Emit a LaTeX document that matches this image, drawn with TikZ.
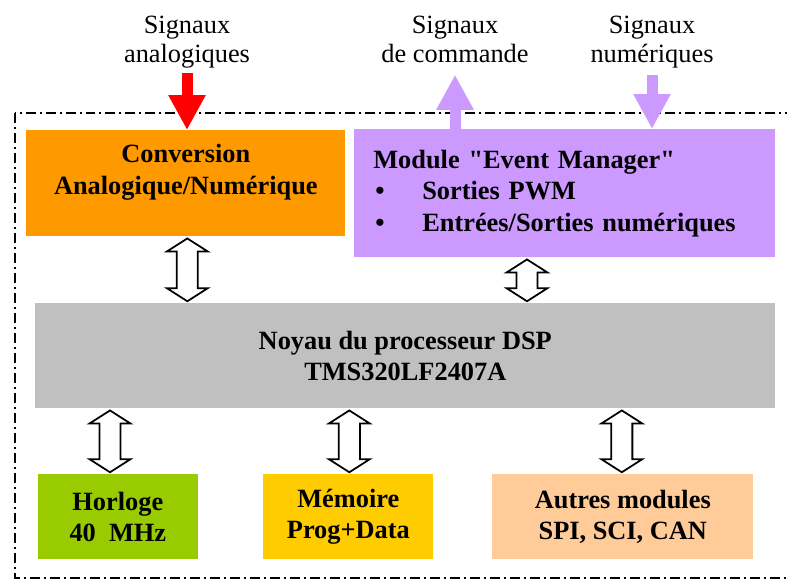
\documentclass[tikz,border=0pt]{standalone}
\usepackage{fontspec}
\setmainfont{Liberation Serif}[Ligatures=TeXOff]
\usetikzlibrary{arrows.meta, calc}
\definecolor{convcol}{RGB}{255,153,0}
\definecolor{evmcol}{RGB}{204,153,255}
\definecolor{corecol}{RGB}{192,192,192}
\definecolor{clkcol}{RGB}{153,204,0}
\definecolor{memcol}{RGB}{255,204,0}
\definecolor{othcol}{RGB}{255,204,153}

\begin{document}
\begin{tikzpicture}[
    x=0.02cm, y=-0.02cm,
    box/.style={rectangle, anchor=north west, inner sep=0pt, align=center, font=\fontsize{15}{18}\selectfont\bfseries, text=black},
    sig/.style={anchor=south, inner sep=2pt, align=center, text depth=4pt, font=\fontsize{15}{16.5}\selectfont},
    fat/.style={line width=0.22cm, -{Triangle[length=0.7cm, width=0.7cm]}},
    bus/.style={draw, fill=white, line width=1pt, to path={
        let \p1=(\tikztostart), \p2=(\tikztotarget) in
        (\x1,\y1-1pt) -- (\x1+11.6pt,\y1-8.4pt) -- (\x1+6pt,\y1-8.4pt) -- (\x1+6pt,\y2+8.4pt)
        -- (\x1+11.6pt,\y2+8.4pt) -- (\x1,\y2+1pt) -- (\x1-11.6pt,\y2+8.4pt) -- (\x1-6pt,\y2+8.4pt)
        -- (\x1-6pt,\y1-8.4pt) -- (\x1-11.6pt,\y1-8.4pt) -- cycle}},
    frame/.style={line width=0.8pt, dash pattern=on 2mm off 0.8mm on 0.4mm off 0.8mm}
]
\useasboundingbox (0,0) rectangle (787,579);

% dash-dot frame of the DSP
\draw[frame] (15,113) rectangle (800,578);

% blocks
\node[box, fill=convcol, minimum width=6.38cm, minimum height=2.12cm, text depth=0.555cm] (conv) at (26,130) {Conversion\\Analogique/Numérique};
\node[box, fill=evmcol, minimum width=8.42cm, minimum height=2.56cm, inner xsep=0.38cm, text width=7.66cm, align=left] (evm) at (354,129)
    {Module "Event Manager"\\
     \makebox[0.98cm][l]{\hspace{0.04cm}\textbullet}Sorties PWM\\
     \makebox[0.98cm][l]{\hspace{0.04cm}\textbullet}Entrées/Sorties numériques};
\node[box, fill=corecol, minimum width=14.8cm, minimum height=2.1cm] (core) at (35,303) {Noyau du processeur DSP\\TMS320LF2407A};
\node[box, fill=clkcol, minimum width=3.2cm, minimum height=1.7cm] (clk) at (37.5,474) {Horloge\\40~~MHz};
\node[box, fill=memcol, minimum width=3.4cm, minimum height=1.7cm] (mem) at (263,474) {Mémoire\\Prog+Data};
\node[box, fill=othcol, minimum width=5.22cm, minimum height=1.7cm] (oth) at (492,474) {Autres modules\\SPI, SCI, CAN};

% outside signals
\node[sig] (sa) at (187,73) {Signaux\\analogiques};
\node[sig] (sc) at (455,73) {Signaux\\de commande};
\node[sig] (sn) at (652,73) {Signaux\\numériques};

\draw[fat, red] (sa.south) -- (sa.south |- conv.north);
\draw[fat, evmcol] (sc.south |- evm.north) -- ([yshift=-1pt]sc.south);
\draw[fat, evmcol] ([yshift=-1pt]sn.south) -- (sn.south |- evm.north);

% internal buses
\coordinate (b1) at ($(conv.south)+(1.5,0)$);
\coordinate (b2) at ($(evm.south west)+(173,0)$);
\coordinate (b3) at ($(clk.north west)+(72.5,0)$);
\coordinate (b4) at ($(mem.north)+(1,0)$);
\coordinate (b5) at ($(oth.north)+(-1,0)$);
\draw[bus] (b1) to (b1 |- core.north);
\draw[bus] (b2) to (b2 |- core.north);
\draw[bus] (b3 |- core.south) to (b3);
\draw[bus] (b4 |- core.south) to (b4);
\draw[bus] (b5 |- core.south) to (b5);
\end{tikzpicture}
\end{document}
